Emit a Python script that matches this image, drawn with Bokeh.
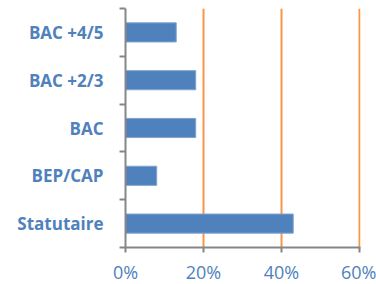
from bokeh.plotting import figure
from bokeh.models import FixedTicker, Range1d, ColumnDataSource, NumeralTickFormatter
from bokeh.embed import file_html
from bokeh.resources import INLINE

categories = ["Statutaire", "BEP/CAP", "BAC", "BAC +2/3", "BAC +4/5"]
values = [0.43, 0.08, 0.18, 0.18, 0.13]
x_ticks = [0, 0.2, 0.4, 0.6]

pos = [i + 0.5 for i in range(len(categories))]
src = ColumnDataSource(dict(y=pos, right=values, left=[0] * len(values)))

p = figure(frame_width=235, frame_height=239, output_backend="svg", toolbar_location=None,
           x_range=Range1d(0, 0.6025), y_range=Range1d(0, len(categories)),
           min_border_left=125, min_border_right=16, min_border_top=8, min_border_bottom=37)
p.outline_line_color = None
p.background_fill_color = "white"
p.border_fill_color = "white"

p.hbar(y="y", left="left", right="right", height=0.4, source=src,
       fill_color="#4F81BD", line_color="#7FA3D3", line_width=1)

# grid
p.ygrid.grid_line_color = None
p.xgrid.ticker = FixedTicker(ticks=x_ticks[1:])
p.xgrid.grid_line_color = "#F79646"
p.xgrid.grid_line_width = 2

# x axis
xa = p.xaxis[0]
xa.ticker = FixedTicker(ticks=x_ticks)
xa.formatter = NumeralTickFormatter(format="0%")
xa.axis_line_color = "#868686"
xa.axis_line_width = 2
xa.major_tick_line_color = "#868686"
xa.major_tick_line_width = 2
xa.major_tick_out = 5
xa.major_tick_in = 0
xa.minor_tick_line_color = None
xa.major_label_text_font = "Open Sans"
xa.major_label_text_font_size = "18px"
xa.major_label_text_color = "#4F81BD"
xa.major_label_standoff = 7

# y axis
ya = p.yaxis[0]
ya.ticker = FixedTicker(ticks=pos, minor_ticks=list(range(len(categories) + 1)))
ya.major_label_overrides = {pv: c for pv, c in zip(pos, categories)}
ya.axis_line_color = "#868686"
ya.axis_line_width = 2
ya.major_tick_line_color = None
ya.major_tick_out = 0
ya.major_tick_in = 0
ya.minor_tick_line_color = "#868686"
ya.minor_tick_line_width = 2
ya.minor_tick_out = 6
ya.minor_tick_in = 0
ya.major_label_text_font = "Open Sans"
ya.major_label_text_font_style = "bold"
ya.major_label_text_font_size = "17px"
ya.major_label_text_color = "#4F81BD"
ya.major_label_standoff = 16

open("out.html", "w").write(file_html(p, INLINE))
